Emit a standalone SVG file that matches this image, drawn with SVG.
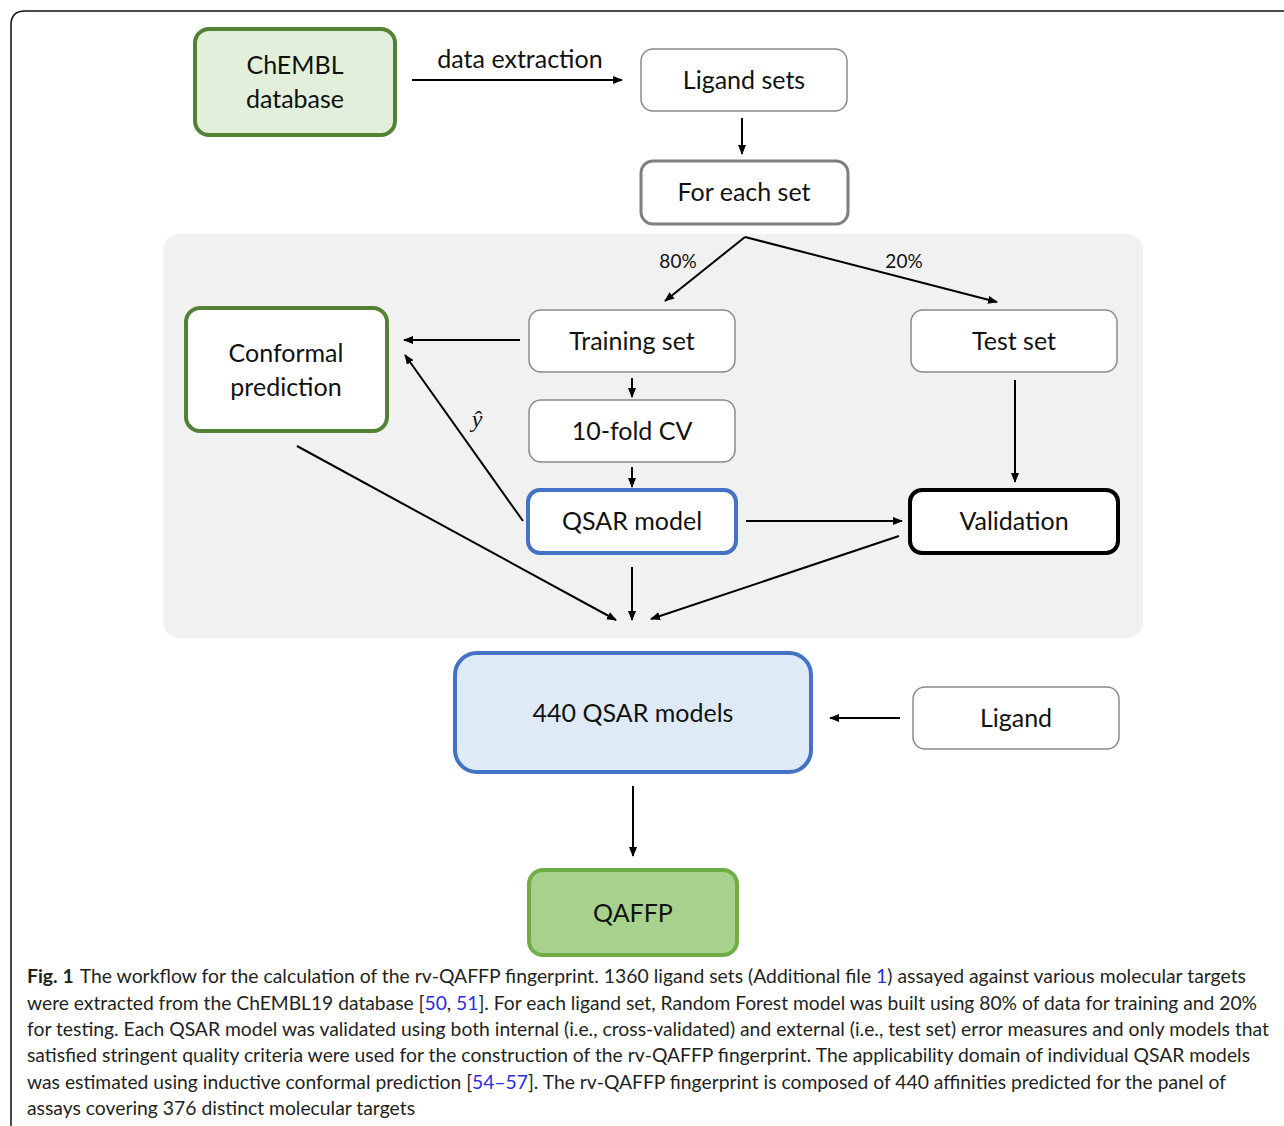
<svg xmlns="http://www.w3.org/2000/svg" width="1284" height="1126" viewBox="0 0 1284 1126">
<style>
.t{font-family:Lato,"Open Sans",sans-serif;font-size:25px;fill:#111;text-anchor:middle}
.s{font-family:Lato,"Open Sans",sans-serif;font-size:19px;fill:#111;text-anchor:middle}
.thin{fill:#fff;stroke:#8a8a8a;stroke-width:1.5}
.c{stroke:#000;stroke-width:2;fill:none;marker-end:url(#ah)}
.cap{font-family:Lato,"Open Sans",sans-serif;font-size:19px;fill:#231f20}
.lk{fill:#2b2bdf}
</style>
<defs>
<marker id="ah" markerUnits="userSpaceOnUse" markerWidth="10" markerHeight="10" viewBox="0 0 10 10" refX="9" refY="5" orient="auto">
<path d="M0,1 L10,5 L0,9 Z" fill="#000"/>
</marker>
</defs>
<path d="M11,1126 V25 Q11,11 25,11 H1284" fill="none" stroke="#111" stroke-width="1.5"/>
<rect x="163" y="234" width="980" height="404" rx="16" fill="#f1f1f1"/>
<g id="connectors">
<line class="c" x1="412" y1="80" x2="622" y2="80"/>
<line class="c" x1="742" y1="118" x2="742" y2="154"/>
<line class="c" x1="745" y1="237" x2="665" y2="301"/>
<line class="c" x1="745" y1="237" x2="997" y2="302"/>
<line class="c" x1="520" y1="340" x2="404" y2="340"/>
<line class="c" x1="523" y1="521" x2="405" y2="355"/>
<line class="c" x1="632" y1="378" x2="632" y2="397"/>
<line class="c" x1="632" y1="467" x2="632" y2="487"/>
<line class="c" x1="1015" y1="380" x2="1015" y2="482"/>
<line class="c" x1="746" y1="521" x2="902" y2="521"/>
<line class="c" x1="297" y1="446" x2="616" y2="620"/>
<line class="c" x1="632" y1="567" x2="632" y2="620"/>
<line class="c" x1="899" y1="536" x2="651" y2="619"/>
<line class="c" x1="900" y1="718" x2="830" y2="718"/>
<line class="c" x1="633" y1="786" x2="633" y2="856"/>
<text class="t" x="520" y="68">data extraction</text>
<text class="s" x="678" y="268">80%</text>
<text class="s" x="904" y="268">20%</text>
<text x="477" y="427" font-family="'Liberation Serif',serif" font-style="italic" font-size="24" text-anchor="middle" fill="#111">ŷ</text>
</g>
<g id="chembl">
<rect x="195" y="29" width="200" height="106" rx="14" fill="#e2efda" stroke="#548235" stroke-width="4"/>
<text class="t" x="295" y="74">ChEMBL</text>
<text class="t" x="295" y="108">database</text>
</g>
<g id="ligand-sets">
<rect class="thin" x="641" y="49" width="206" height="62" rx="12"/>
<text class="t" x="744" y="89">Ligand sets</text>
</g>
<g id="for-each-set">
<rect x="641" y="161" width="207" height="63" rx="12" fill="#fff" stroke="#7f7f7f" stroke-width="3"/>
<text class="t" x="744" y="201">For each set</text>
</g>
<g id="training-set">
<rect class="thin" x="529" y="310" width="206" height="62" rx="12"/>
<text class="t" x="632" y="350">Training set</text>
</g>
<g id="test-set">
<rect class="thin" x="911" y="310" width="206" height="62" rx="12"/>
<text class="t" x="1014" y="350">Test set</text>
</g>
<g id="conformal">
<rect x="186" y="308" width="201" height="123" rx="14" fill="#fff" stroke="#548235" stroke-width="4"/>
<text class="t" x="286" y="362">Conformal</text>
<text class="t" x="286" y="396">prediction</text>
</g>
<g id="cv">
<rect class="thin" x="529" y="400" width="206" height="62" rx="12"/>
<text class="t" x="632" y="440">10-fold CV</text>
</g>
<g id="qsar-model">
<rect x="528" y="490" width="208" height="63" rx="12" fill="#fff" stroke="#4472c4" stroke-width="4"/>
<text class="t" x="632" y="530">QSAR model</text>
</g>
<g id="validation">
<rect x="910" y="490" width="208" height="63" rx="12" fill="#fff" stroke="#000" stroke-width="4"/>
<text class="t" x="1014" y="530">Validation</text>
</g>
<g id="qsar-models">
<rect x="455" y="653" width="356" height="119" rx="22" fill="#deebf7" stroke="#4472c4" stroke-width="4"/>
<text class="t" x="633" y="722">440 QSAR models</text>
</g>
<g id="ligand">
<rect class="thin" x="913" y="687" width="206" height="62" rx="12"/>
<text class="t" x="1016" y="727">Ligand</text>
</g>
<g id="qaffp">
<rect x="529" y="870" width="208" height="85" rx="14" fill="#a9d18e" stroke="#70ad47" stroke-width="4"/>
<text class="t" x="633" y="922">QAFFP</text>
</g>
<g id="caption">
<text class="cap" x="27" y="983" textLength="1219" lengthAdjust="spacingAndGlyphs"><tspan font-weight="bold">Fig. 1</tspan><tspan dx="6">The workflow for the calculation of the rv-QAFFP fingerprint. 1360 ligand sets (Additional file </tspan><tspan class="lk">1</tspan>) assayed against various molecular targets</text>
<text class="cap" x="27" y="1010" textLength="1230" lengthAdjust="spacingAndGlyphs">were extracted from the ChEMBL19 database [<tspan class="lk">50</tspan>, <tspan class="lk">51</tspan>]. For each ligand set, Random Forest model was built using 80% of data for training and 20%</text>
<text class="cap" x="27" y="1036" textLength="1242" lengthAdjust="spacingAndGlyphs">for testing. Each QSAR model was validated using both internal (i.e., cross-validated) and external (i.e., test set) error measures and only models that</text>
<text class="cap" x="27" y="1062" textLength="1223" lengthAdjust="spacingAndGlyphs">satisfied stringent quality criteria were used for the construction of the rv-QAFFP fingerprint. The applicability domain of individual QSAR models</text>
<text class="cap" x="27" y="1089" textLength="1199" lengthAdjust="spacingAndGlyphs">was estimated using inductive conformal prediction [<tspan class="lk">54–57</tspan>]. The rv-QAFFP fingerprint is composed of 440 affinities predicted for the panel of</text>
<text class="cap" x="27" y="1115" textLength="388" lengthAdjust="spacingAndGlyphs">assays covering 376 distinct molecular targets</text>
</g>
</svg>
